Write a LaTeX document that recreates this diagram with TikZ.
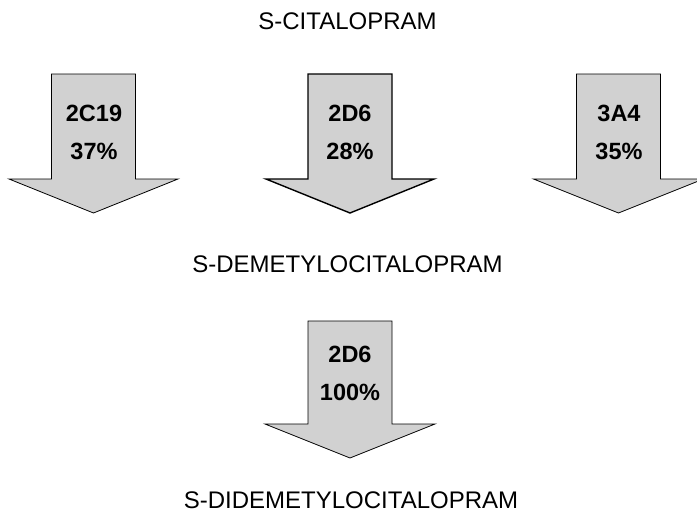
\documentclass[tikz,border=0pt]{standalone}
\usepackage{fontspec}
\setmainfont{Liberation Sans}
\usetikzlibrary{positioning}

\begin{document}
\begin{tikzpicture}
	[x=1pt,y=-1pt,
		cyp/.style={draw=black,fill=black!18,line width=0.8pt,line join=miter},
		compound/.style={inner sep=0pt,font=\fontsize{24}{28}\selectfont},
		enzyme/.style={inner sep=0pt,font=\fontsize{23.5}{27}\selectfont\bfseries}]
	\useasboundingbox (0,0) rectangle (697,512);

	% compounds
	\node[compound] (cit) at (347.5,21.5) {S-CITALOPRAM};
	\node[compound] (dcit) at (347.5,264) {S-DEMETYLOCITALOPRAM};
	\node[compound] (ddcit) at (351,500) {S-DIDEMETYLOCITALOPRAM};

	% first step: three arrows
	\draw[cyp,shift={(93.5,0)}] (-42,74) -- (42,74) -- (42,179) -- (84.5,179)
		-- (0,213) -- (-84.5,179) -- (-42,179) -- cycle;
	\draw[cyp,line width=1.4pt,shift={(350,0)}] (-42,74) -- (42,74) -- (42,179)
		-- (84,179) -- (0,213) -- (-84,179) -- (-42,179) -- cycle;
	\draw[cyp,shift={(618.5,0)}] (-42,74) -- (42,74) -- (42,179) -- (85,179)
		-- (0,213) -- (-85,179) -- (-42,179) -- cycle;

	\node[enzyme] (e1) at (94,113) {2C19};
	\node[enzyme,below=38pt of e1.center,anchor=center] (p1) {37\%};
	\node[enzyme] (e2) at (350,113) {2D6};
	\node[enzyme,below=38pt of e2.center,anchor=center] (p2) {28\%};
	\node[enzyme] (e3) at (619,113) {3A4};
	\node[enzyme,below=38pt of e3.center,anchor=center] (p3) {35\%};

	% second step
	\draw[cyp,shift={(350,0)}] (-42,321) -- (42,321) -- (42,424) -- (85,424)
		-- (0,458) -- (-85,424) -- (-42,424) -- cycle;
	\node[enzyme] (e4) at (350,354) {2D6};
	\node[enzyme,below=38pt of e4.center,anchor=center] (p4) {100\%};
\end{tikzpicture}
\end{document}
